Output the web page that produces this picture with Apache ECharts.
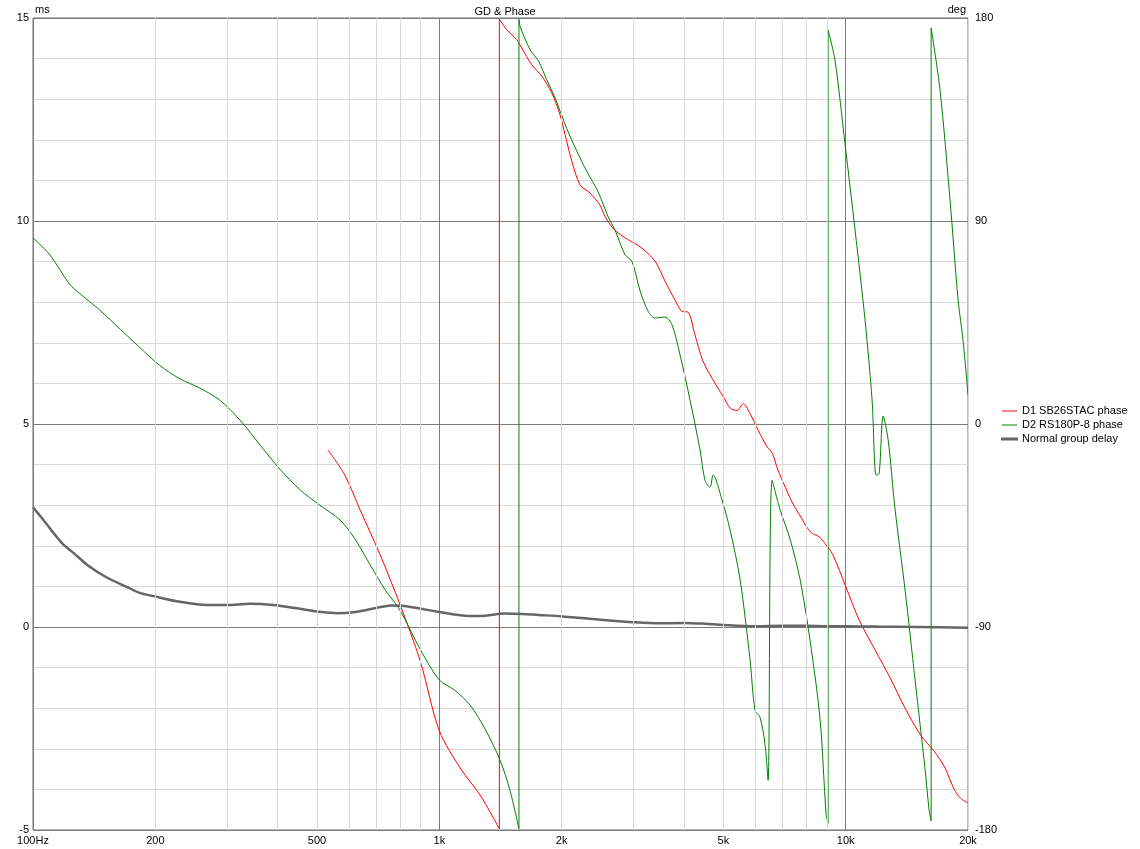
<!DOCTYPE html>
<html><head><meta charset="utf-8">
<script src="https://cdn.jsdelivr.net/npm/echarts@6/dist/echarts.min.js"></script>
<style>html,body{margin:0;padding:0;background:#fff}#c{width:1140px;height:849px}</style>
</head><body><div id="c"></div>
<script>
// ---- data ----
const xTickFreqs = [100, 200, 500, 1000, 2000, 5000, 10000, 20000];
const xTickLabels = ['100Hz', '200', '500', '1k', '2k', '5k', '10k', '20k'];
const xMinorFreqs = [200, 300, 400, 500, 600, 700, 800, 900, 2000, 3000, 4000, 5000, 6000, 7000, 8000, 9000, 20000];

const gdFreq = [100,106,118,126,136,152,170,183,198,230,268,300,342,390,446,500,538,560,620,700,760,820,900,1000,1100,1200,1300,1450,1600,1800,2000,2500,3000,3500,4000,4500,5000,6000,7000,8000,9000,10000,12000,15000,20000];
const gdMs   = [2.95,2.64,2.06,1.82,1.53,1.22,0.99,0.84,0.76,0.62,0.54,0.54,0.57,0.54,0.46,0.38,0.35,0.34,0.37,0.47,0.53,0.52,0.45,0.37,0.30,0.27,0.28,0.33,0.32,0.29,0.26,0.18,0.12,0.09,0.10,0.08,0.05,0.02,0.03,0.03,0.02,0.02,0.01,0.0,-0.02];

const d1Freq = [532,585,638,715,800,897,1000,1130,1260,1405,1405,1465,1550,1595,1688,1787,1891,1982,2039,2118,2220,2349,2486,2557,2700,2900,3150,3400,3600,3800,3950,4100,4250,4450,4700,5000,5200,5400,5600,5800,6100,6400,6600,6800,7100,7400,7800,8200,8600,8900,9300,10000,10800,11800,12900,14000,15300,16500,17500,18500,19200,20000];
const d1Deg  = [-11.5,-22.6,-38,-58,-80,-105,-136,-153,-164.5,-179.5,179.5,174.8,170.4,166.7,159.3,154.2,146.8,137,128.3,116.6,106,102.4,97,92,86,82,78,72,63,55,50,49.5,40,28,20,12,7,6,9,5,-3,-10,-13,-20,-28,-35,-42,-48,-50,-53,-58,-72,-87,-100,-113,-126,-138,-145,-152,-162,-166,-168];

const d2Freq = [100,110,123,130,146,164,183,205,230,257,288,323,362,405,453,508,570,620,676,736,800,898,1000,1090,1190,1300,1410,1490,1570,1570,1580,1672,1753,1838,1927,2059,2179,2306,2458,2601,2706,2865,2981,3119,3264,3395,3594,3738,3912,4140,4381,4507,4636,4717,4963,5194,5497,5817,5984,6155,6332,6442,6591,6896,7297,7724,8173,8650,8950,9050,9050,9417,9965,10546,11161,11614,11882,12088,12366,12720,13233,14002,14818,15680,16040,16230,16230,17070,18070,18910,19450,20000];
const d2Deg  = [82.5,75,62,58,50.5,42,34,26,20,16,10.6,1.8,-9.3,-20,-29,-36,-42.6,-51,-62.5,-73.6,-82.5,-100,-113.5,-118,-124.6,-135.7,-149,-162,-179.5,179.5,176.3,166,161,152.6,144.5,131,121,112,103,92,86,75,72,59,50,47,47.4,44,30.6,10.6,-11.5,-25,-28,-22.6,-33.7,-47,-69,-104.6,-127,-130,-142,-158,-25,-38,-51,-69,-96,-131,-173,-177,174.7,161,124,86,46,10.6,-22.6,-22,3.5,-7,-38,-73.6,-113.5,-153,-171,-176,175.6,148,99,55,37,13];

// ---- build ----
const pairs = (xs, ys) => xs.map((x, i) => [x, ys[i]]);
// split a wrapped phase trace into smooth pieces plus the vertical wrap jumps
function splitWrap(xs, ys) {
  const smooth = [], jumps = [];
  for (let i = 0; i < xs.length; i++) {
    if (i > 0 && xs[i] === xs[i - 1]) {
      smooth.push([xs[i], '-']);
      jumps.push([xs[i - 1], ys[i - 1]], [xs[i], ys[i]], [xs[i], '-']);
    }
    smooth.push([xs[i], ys[i]]);
  }
  return { smooth, jumps };
}
const d1 = splitWrap(d1Freq, d1Deg);
const d2 = splitWrap(d2Freq, d2Deg);

const FONT = 'Liberation Sans';
const minorLines = xMinorFreqs.map(f => ({ xAxis: f }));
const labelFor = v => {
  let best = 0;
  xTickFreqs.forEach((f, i) => { if (Math.abs(Math.log10(f) - Math.log10(v)) < Math.abs(Math.log10(xTickFreqs[best]) - Math.log10(v))) best = i; });
  return xTickLabels[best];
};

const RED = '#ff0000', GREEN = '#008000', GRAY = '#666666';
const phaseSeries = (name, color, parts) => [
  { name, type: 'line', yAxisIndex: 1, symbol: 'none', z: 3, smooth: 0.3,
    lineStyle: { color, width: 1 }, itemStyle: { color }, data: parts.smooth },
  { name, type: 'line', yAxisIndex: 1, symbol: 'none', z: 3,
    lineStyle: { color, width: 1 }, itemStyle: { color }, data: parts.jumps }
];

const chart = echarts.init(document.getElementById('c'), null, { renderer: 'canvas' });
chart.setOption({
  animation: false,
  backgroundColor: '#fff',
  title: { text: 'GD & Phase', left: 500, top: 1, textAlign: 'center', textStyle: { fontSize: 11, fontWeight: 'normal', color: '#000', fontFamily: FONT } },
  grid: { left: 33, right: 172, top: 18, bottom: 19, show: true, borderColor: '#6e6e6e', borderWidth: 1, backgroundColor: 'transparent' },
  legend: {
    data: [
      { name: 'D1 SB26STAC phase', icon: 'rect' },
      { name: 'D2 RS180P-8 phase', icon: 'rect' },
      { name: 'Normal group delay', icon: 'rect', itemStyle: { borderColor: GRAY, borderWidth: 2 } }
    ],
    orient: 'vertical', left: 1001, top: 404, padding: 0, itemWidth: 15, itemHeight: 1, itemGap: 0,
    textStyle: { fontSize: 11, color: '#000', fontFamily: FONT, lineHeight: 14 }
  },
  xAxis: {
    type: 'log', logBase: 10, min: 100, max: 20000,
    axisLine: { show: false }, axisTick: { show: false },
    axisLabel: { show: true, customValues: xTickFreqs, formatter: v => labelFor(v), fontSize: 11, color: '#000', fontFamily: FONT, margin: 5, showMinLabel: true, showMaxLabel: true, hideOverlap: false },
    splitLine: { show: true, lineStyle: { color: '#7a7a7a', width: 1 } }
  },
  yAxis: [
    { type: 'value', min: -5, max: 15, interval: 5, name: 'ms', nameLocation: 'end', nameGap: 3,
      nameTextStyle: { align: 'left', fontSize: 11, color: '#000', fontFamily: FONT, padding: [0, 0, 0, 2] },
      axisLine: { show: false }, axisTick: { show: false },
      axisLabel: { fontSize: 11, color: '#000', fontFamily: FONT, margin: 4 },
      splitLine: { show: true, lineStyle: { color: '#7a7a7a', width: 1 } },
      minorTick: { show: false, splitNumber: 5 },
      minorSplitLine: { show: true, lineStyle: { color: '#d9d9d9', width: 1 } } },
    { type: 'value', min: -180, max: 180, interval: 90, name: 'deg', nameLocation: 'end', nameGap: 3,
      nameTextStyle: { align: 'right', fontSize: 11, color: '#000', fontFamily: FONT, padding: [0, 2, 0, 0] },
      axisLine: { show: false }, axisTick: { show: false },
      axisLabel: { fontSize: 11, color: '#000', fontFamily: FONT, margin: 7 },
      splitLine: { show: false } }
  ],
  series: [
    { name: 'gridlines', type: 'line', data: [], yAxisIndex: 0, z: 1, silent: true,
      markLine: { silent: true, symbol: ['none', 'none'], animation: false,
        lineStyle: { color: '#d9d9d9', width: 1, type: 'solid' }, label: { show: false }, data: minorLines } },
    ...phaseSeries('D1 SB26STAC phase', RED, d1),
    ...phaseSeries('D2 RS180P-8 phase', GREEN, d2),
    { name: 'Normal group delay', type: 'line', yAxisIndex: 0, symbol: 'none', smooth: 0.3, z: 4,
      lineStyle: { color: GRAY, width: 2.5 }, itemStyle: { color: GRAY }, data: pairs(gdFreq, gdMs) }
  ]
});
</script></body></html>
